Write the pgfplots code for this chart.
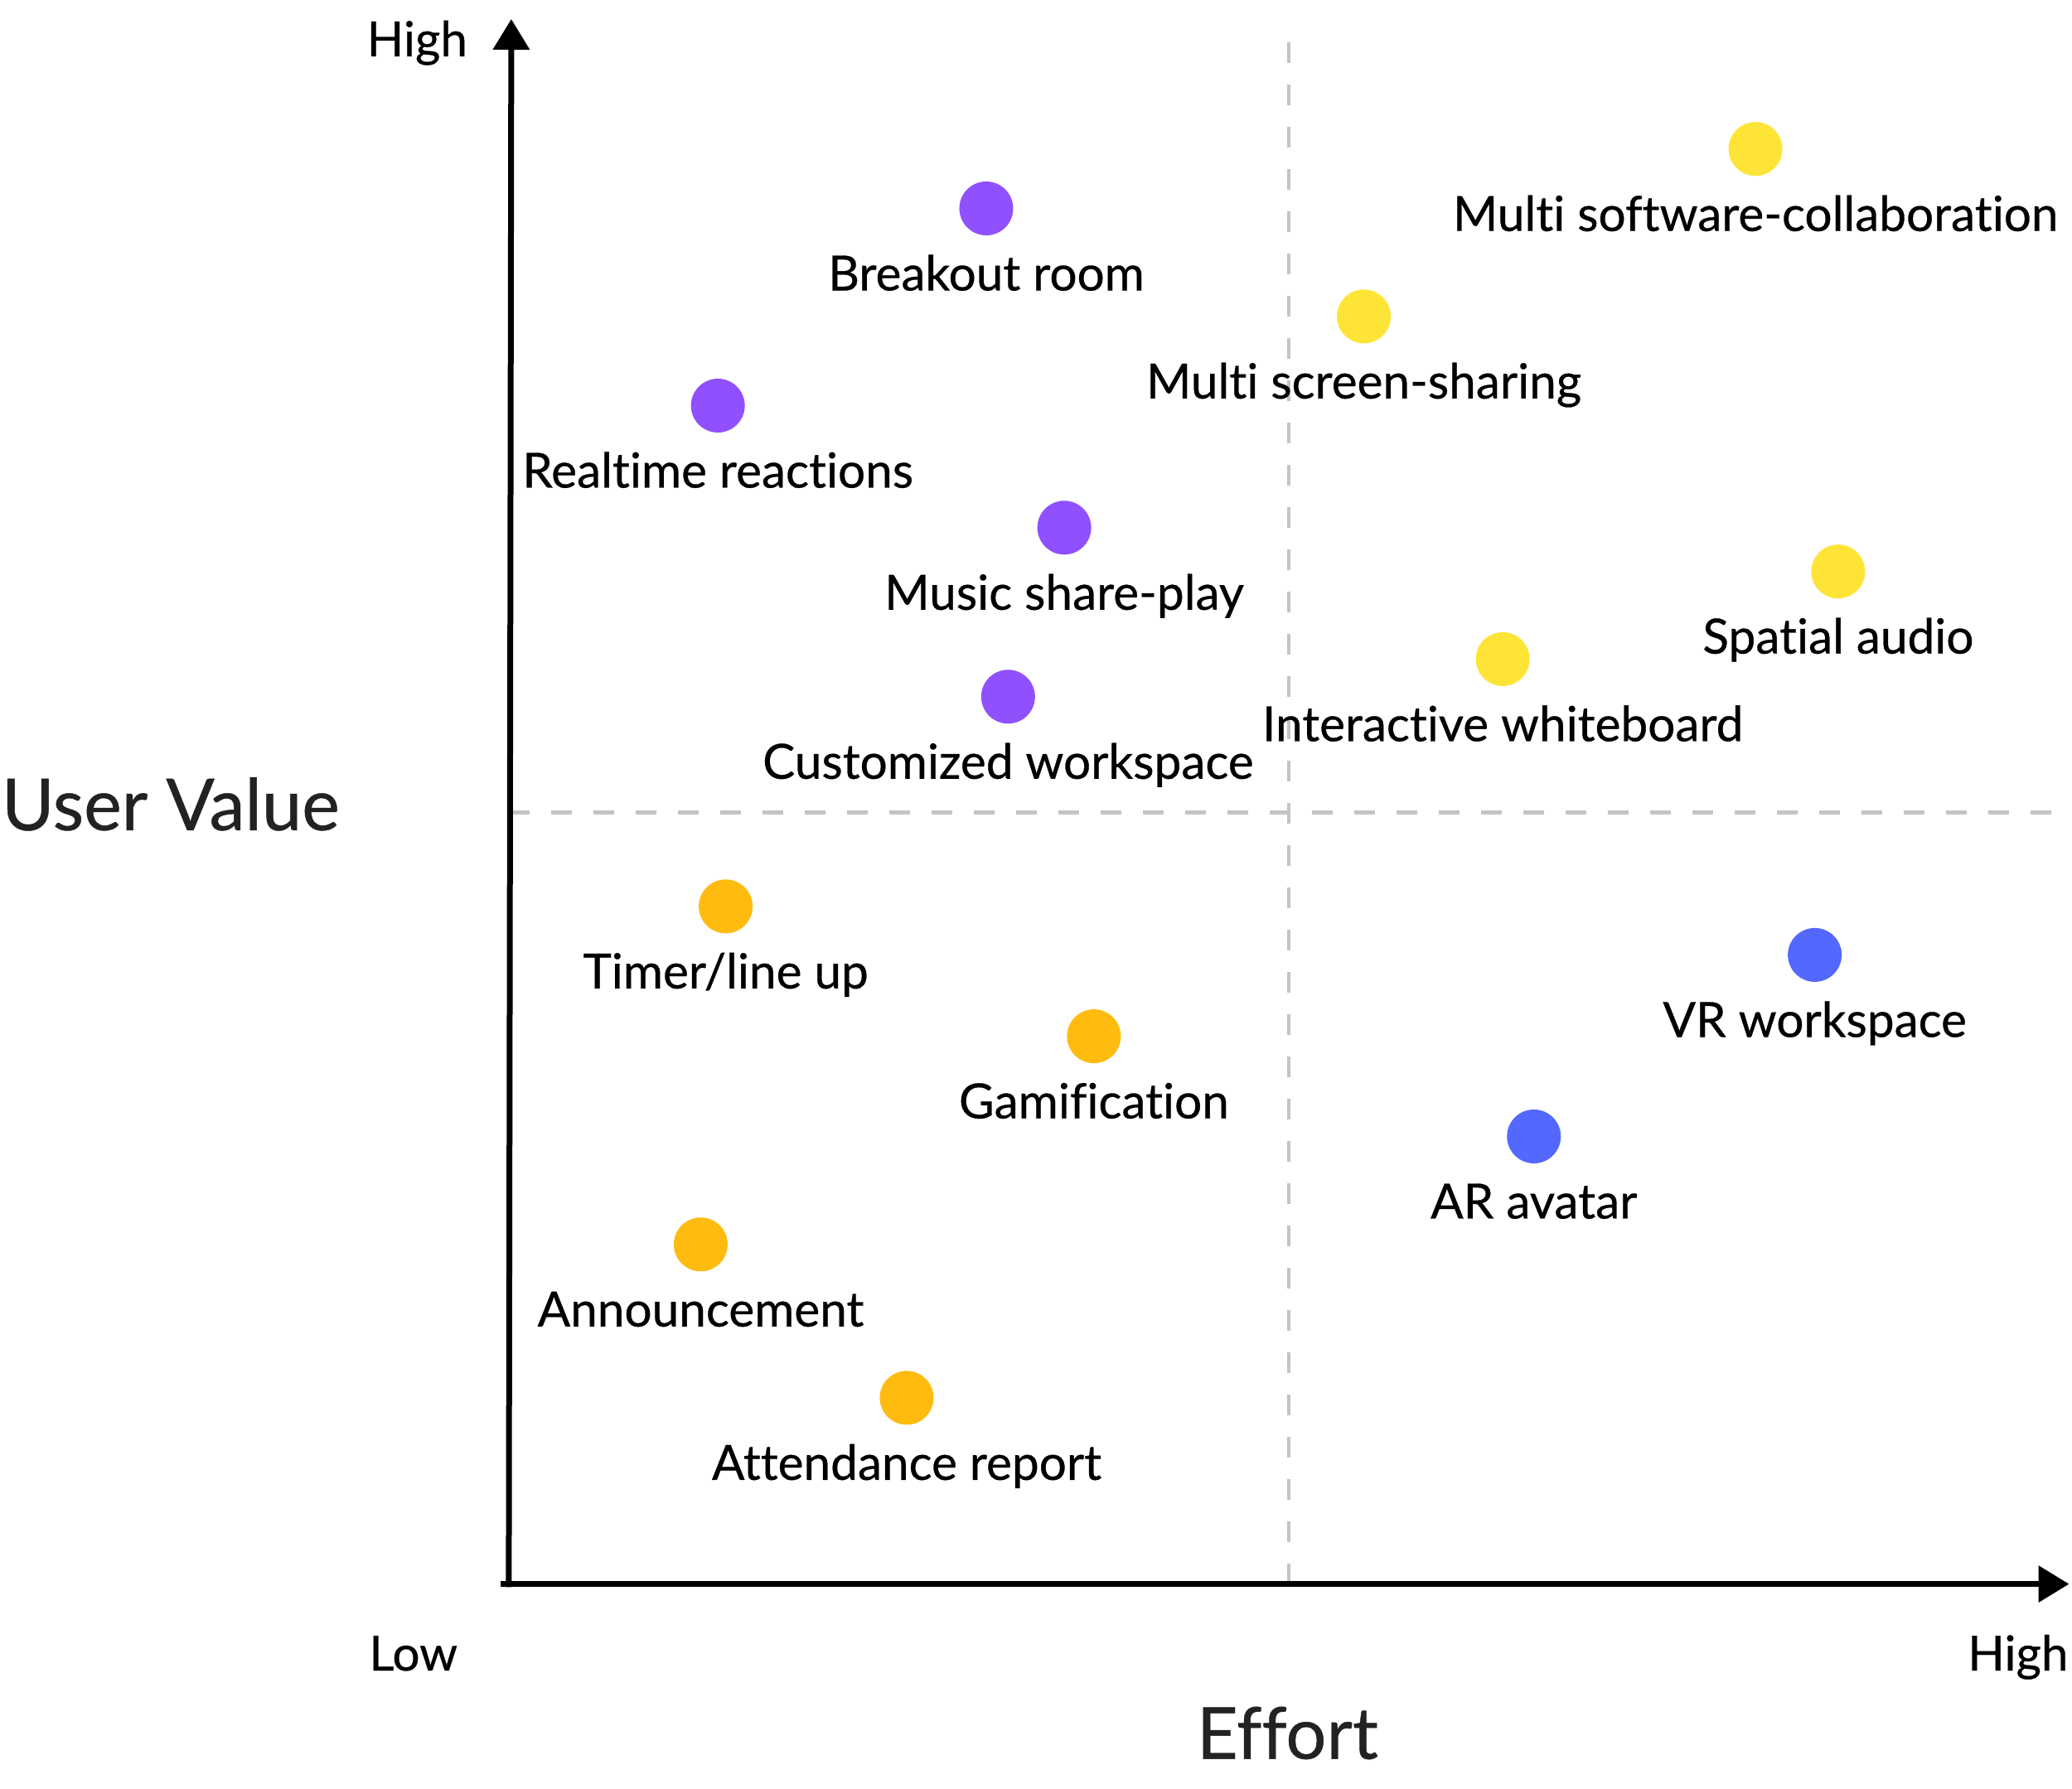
\documentclass[border=0pt]{standalone}
\usepackage{fontspec}
\setmainfont{Lato}[Ligatures=NoCommon, FakeBold=0.5]
\usepackage{pgfplots}
\usepackage{pgfplotstable}
\pgfplotsset{compat=1.18}
\usetikzlibrary{arrows.meta}
\definecolor{cpurple}{HTML}{9150FE}
\definecolor{cyellow}{HTML}{FFE438}
\definecolor{corange}{HTML}{FFBB10}
\definecolor{cblue}{HTML}{5368FF}
\definecolor{cdash}{HTML}{C4C4C4}
\definecolor{ctitle}{HTML}{222222}

\pgfplotstableread[col sep=comma]{
x,y,label
3.06,8.79,Breakout room
1.34,7.53,Realtime reactions
3.56,6.75,Music share-play
3.20,5.67,Customized workspace
}\purpledata

\pgfplotstableread[col sep=comma]{
x,y,label
7.99,9.17,Multi software-collaboration
5.48,8.10,Multi screen-sharing
8.52,6.47,Spatial audio
6.37,5.91,Interactive whiteboard
}\yellowdata

\pgfplotstableread[col sep=comma]{
x,y,label
1.39,4.33,Timer/line up
3.75,3.50,Gamification
1.23,2.17,Announcement
2.55,1.19,Attendance report
}\orangedata

\pgfplotstableread[col sep=comma]{
x,y,label
8.37,4.02,VR workspace
6.57,2.86,AR avatar
}\bluedata

\begin{document}
\begin{tikzpicture}
\begin{axis}[
  hide axis,
  scale only axis,
  width=376.6pt, height=377.8pt,
  xmin=0, xmax=10, ymin=0, ymax=10,
  clip=false,
  every axis plot/.append style={
    only marks, mark=*, mark size=6.3pt,
    nodes near coords, point meta=explicit symbolic,
  },
  nodes near coords style={anchor=base, yshift=-19.8pt, text=black,
    font=\fontsize{11.7}{14}\selectfont, inner sep=0pt},
]
\path (axis cs:-3.261,-1.308) rectangle (axis cs:10.016,10.122);
% quadrant dividers
\draw[cdash, line width=0.9pt, dash pattern=on 5pt off 5.2pt] (axis cs:5,0) -- (axis cs:5,9.9);
\draw[cdash, line width=0.9pt, dash pattern=on 5pt off 5.2pt] (axis cs:0,4.93) -- (axis cs:10,4.93);
% axes
\draw[black, line width=1.4pt, -{Triangle[width=8.6pt,length=7.4pt]}] (axis cs:-0.05,0) -- (axis cs:10,0);
\draw[black, line width=1.4pt, -{Triangle[width=8.6pt,length=7.4pt]}] (axis cs:0,-0.02) -- (axis cs:0.016,10);

\addplot[color=cpurple] table[x=x, y=y, meta=label] {\purpledata};
\addplot[color=cyellow] table[x=x, y=y, meta=label] {\yellowdata};
\addplot[color=corange] table[x=x, y=y, meta=label] {\orangedata};
\addplot[color=cblue] table[x=x, y=y, meta=label] {\bluedata};

\node[anchor=base east, font=\fontsize{11.7}{14}\selectfont, inner sep=0pt] at (axis cs:-0.26,9.762) {High};
\node[anchor=base west, font=\fontsize{11.7}{14}\selectfont, inner sep=0pt] at (axis cs:-0.90,-0.553) {Low};
\node[anchor=base east, font=\fontsize{11.7}{14}\selectfont, inner sep=0pt] at (axis cs:10,-0.553) {High};
\node[anchor=base, font=\fontsize{17.3}{21}\selectfont, text=ctitle, inner sep=0pt] at (axis cs:-2.167,4.817) {User Value};
\node[anchor=base, font=\fontsize{17.3}{21}\selectfont, text=ctitle, inner sep=0pt] at (axis cs:4.99,-1.117) {Effort};
\end{axis}
\end{tikzpicture}
\end{document}
